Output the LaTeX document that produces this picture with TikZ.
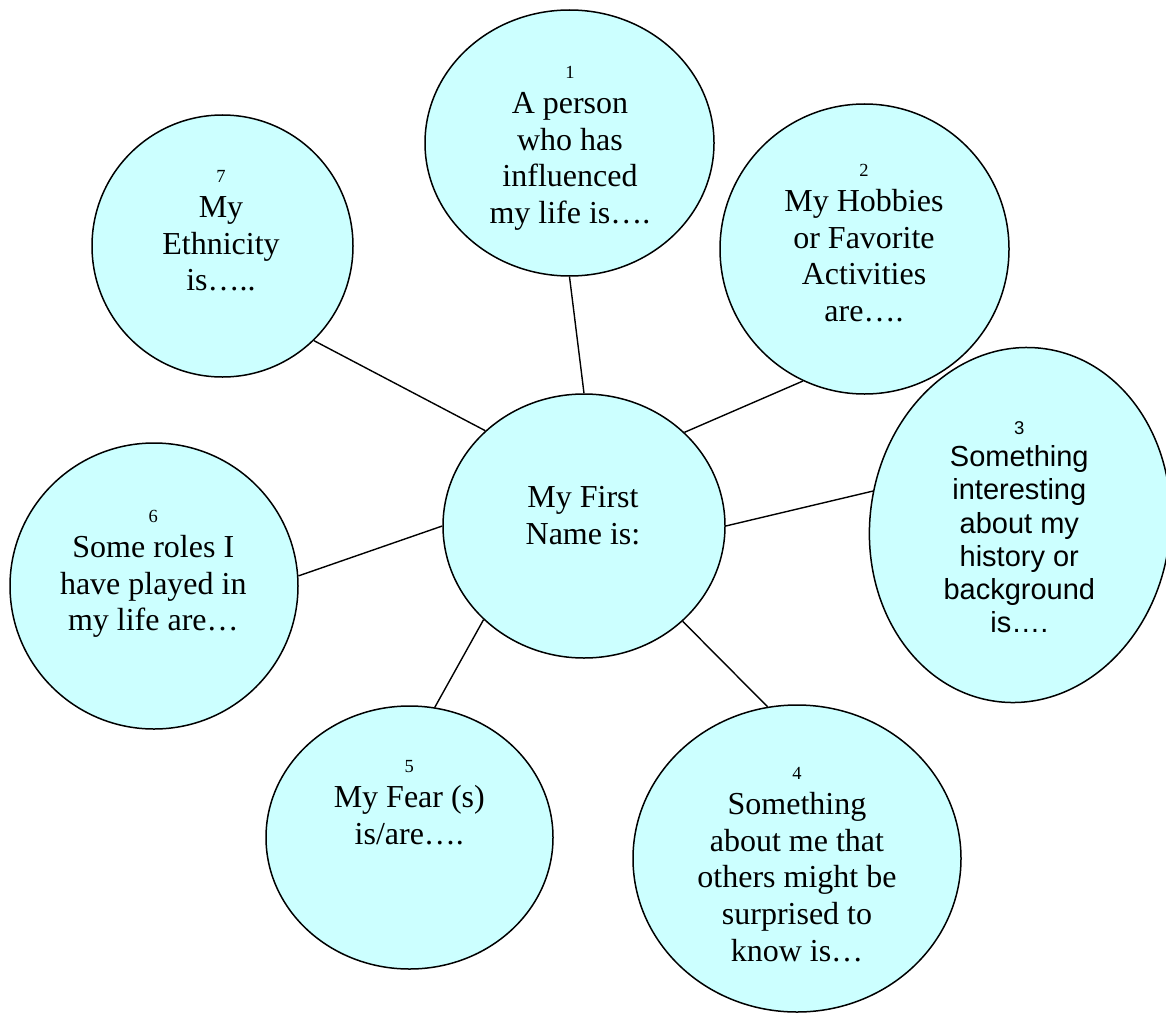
\documentclass[tikz,border=0pt]{standalone}
\usepackage{fontspec}
\setmainfont{Liberation Serif}
\newfontfamily\arialf{Liberation Sans}
\usetikzlibrary{shapes.geometric}
\definecolor{bubblefill}{HTML}{CCFFFF}
\newcommand\nsmall[1]{{\fontsize{18.5}{20}\selectfont #1}}
\tikzset{
  bubble/.style={ellipse, draw=black, line width=1.5pt, fill=bubblefill, inner sep=0pt},
  txt/.style={align=center, inner sep=0pt, anchor=north, font=\fontsize{32}{36.7}\selectfont},
  txtsans/.style={align=center, inner sep=0pt, anchor=north, font=\arialf\fontsize{29}{33.3}\selectfont},
  link/.style={line width=1.4pt, draw=black}
}
\begin{document}
\begin{tikzpicture}[x=1pt, y=-1pt]
\useasboundingbox (0,0) rectangle (1166,1014);
% bubbles
\node[bubble, minimum width=282pt, minimum height=264pt] (c) at (584,526) {};
\node[bubble, minimum width=289pt, minimum height=266pt] (n1) at (569.5,143) {};
\node[bubble, minimum width=289pt, minimum height=290pt] (n2) at (864.5,249) {};
\node[bubble, minimum width=300pt, minimum height=356pt, rotate=-8] (n3) at (1020,525) {};
\node[bubble, minimum width=328pt, minimum height=307pt] (n4) at (797,858.5) {};
\node[bubble, minimum width=287pt, minimum height=263pt] (n5) at (409.5,837.5) {};
\node[bubble, minimum width=288pt, minimum height=286pt] (n6) at (154,586) {};
\node[bubble, minimum width=261pt, minimum height=262pt] (n7) at (222.5,246) {};
% connectors
\draw[link] (c.90.3) -- (n1.270.2);
\draw[link] (c.43) -- (n2.245.2);
\draw[link] (c.0.8) -- (n3.175.7);
\draw[link] (c.316.8) -- (n4.101.7);
\draw[link] (c.223.2) -- (n5.79.3);
\draw[link] (c.180.3) -- (n6.4.3);
\draw[link] (c.136.2) -- (n7.314.3);
% texts
\node[txt] (tc) at (583,486) {My First\\Name is:};
\node[txt] (t1) at (570,66) {\nsmall{1}\\[-1.7pt]A person\\who has\\influenced\\my life is….};
\node[txt] (t2) at (864,164) {\nsmall{2}\\[-1.7pt]My Hobbies\\or Favorite\\Activities\\are….};
\node[txtsans] (t3) at (1019.3,421) {\nsmall{3}\\[-1pt]Something\\interesting\\about my\\history or\\background\\is….};
\node[txt] (t4) at (797,767) {\nsmall{4}\\[-1.7pt]Something\\about me that\\others might be\\surprised to\\know is…};
\node[txt] (t5) at (409.3,760.5) {\nsmall{5}\\[-1.7pt]My Fear (s)\\is/are….};
\node[txt] (t6) at (153.3,510) {\nsmall{6}\\[-1.7pt]Some roles I\\have played in\\my life are…};
\node[txt] (t7) at (221,170) {\nsmall{7}\\[-1.7pt]My\\Ethnicity\\is…..};
\end{tikzpicture}
\end{document}
